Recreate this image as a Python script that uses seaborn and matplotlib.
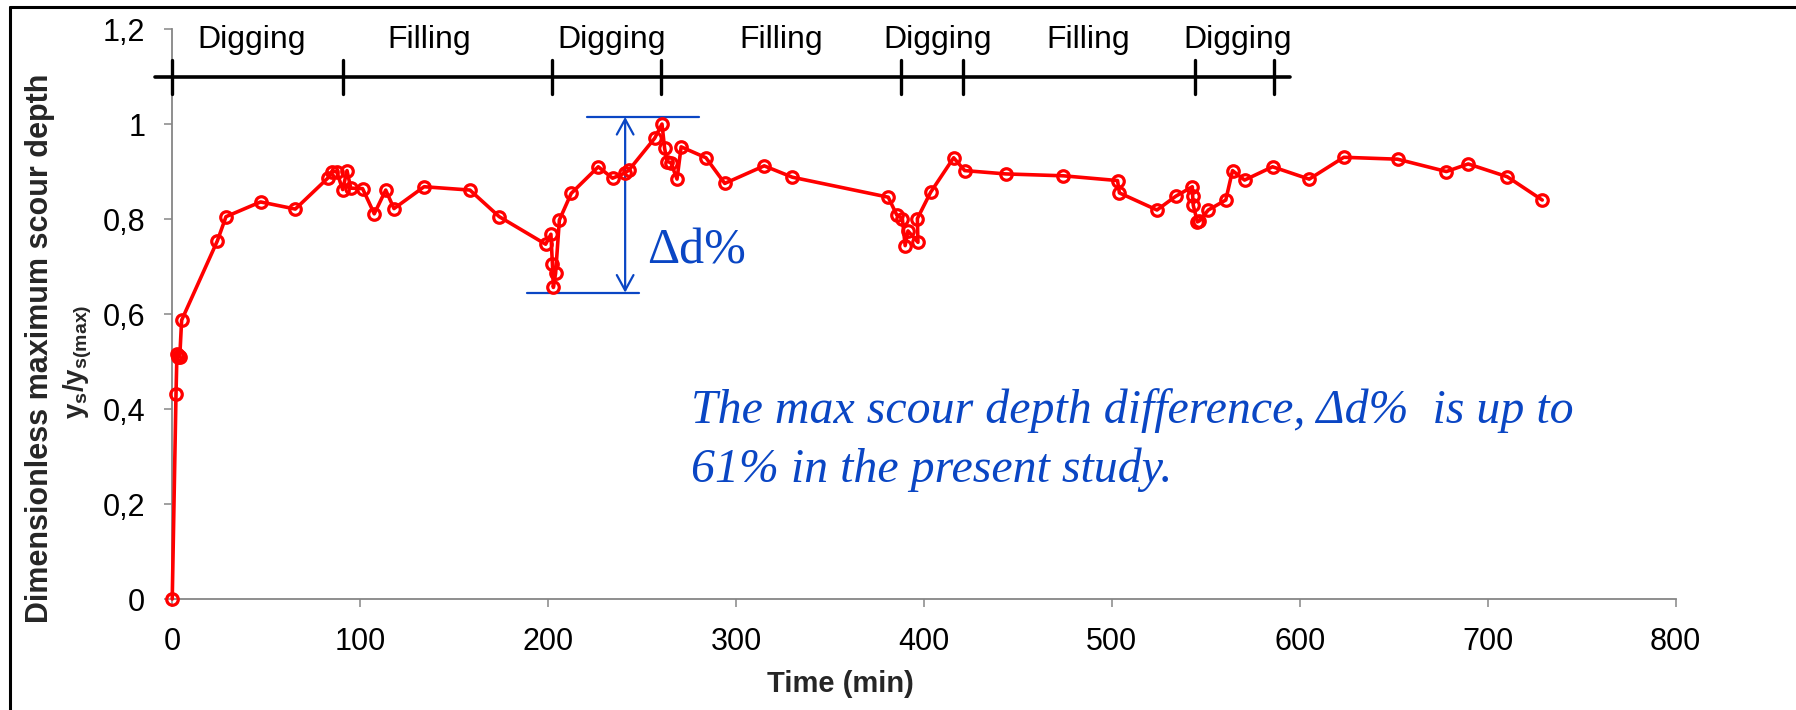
import matplotlib
matplotlib.use("Agg")
import matplotlib.pyplot as plt
from matplotlib.lines import Line2D
import seaborn as sns
import pandas as pd

# temps (min) et profondeur adimensionnelle ys/ys(max)
time_min = [0, 2, 2.5, 3, 3.5, 4, 5, 24, 28.6, 47, 65.5,
            83, 85, 87.5, 90.7, 93, 95, 101.3, 107.5, 113.6, 118,
            134, 158.4, 174, 198.7, 201.5, 202.3, 202.8, 204, 206,
            212.3, 226.7, 234.3, 241, 243, 256.7, 260.6, 262, 263.3, 265.3, 268.6, 270.8,
            284, 294, 315, 330, 381, 385.6, 388.5, 390, 391.5, 396.8, 396.5, 403.5,
            415.8, 421.7, 443.4, 474.2, 503, 504, 524, 534,
            542.8, 543, 543.3, 545.5, 546.5, 551.3, 560.6, 564.2, 570.6, 585.5,
            605, 623.4, 652, 678, 689.6, 710.4, 729]
depth_ratio = [0, 0.431, 0.515, 0.51, 0.512, 0.51, 0.587, 0.754, 0.805, 0.836, 0.821,
               0.887, 0.900, 0.900, 0.862, 0.902, 0.865, 0.864, 0.811, 0.861, 0.822,
               0.868, 0.861, 0.805, 0.747, 0.768, 0.705, 0.656, 0.686, 0.798,
               0.854, 0.910, 0.886, 0.897, 0.903, 0.970, 1.0, 0.949, 0.921, 0.919, 0.884, 0.952,
               0.929, 0.875, 0.912, 0.888, 0.846, 0.808, 0.801, 0.744, 0.775, 0.751, 0.801, 0.856,
               0.929, 0.902, 0.895, 0.891, 0.881, 0.855, 0.819, 0.848,
               0.868, 0.848, 0.829, 0.794, 0.796, 0.819, 0.840, 0.902, 0.882, 0.910,
               0.884, 0.930, 0.926, 0.900, 0.916, 0.889, 0.840]

# phases creusement / remplissage
phase_bounds = [0, 91, 202, 260, 388, 421, 544, 586]
phase_labels = ["Digging", "Filling", "Digging", "Filling", "Digging", "Filling", "Digging"]
# petit decalage des etiquettes par rapport au milieu de la phase (min)
label_shift = [-3, -10, 3, 0, 3, 5, 2]

x_ticks = [0, 100, 200, 300, 400, 500, 600, 700, 800]
y_ticks = [0, 0.2, 0.4, 0.6, 0.8, 1.0, 1.2]
y_tick_labels = ["0", "0,2", "0,4", "0,6", "0,8", "1", "1,2"]

BLUE = "#0A46C4"
GRAY = "#868686"

sns.set_theme(style="white")
plt.rcParams["font.family"] = ["Liberation Sans", "DejaVu Sans"]
plt.rcParams["mathtext.fontset"] = "custom"
plt.rcParams["mathtext.bf"] = "Liberation Sans:bold"
plt.rcParams["mathtext.rm"] = "Liberation Sans"

df = pd.DataFrame({"time": time_min, "ratio": depth_ratio})

fig = plt.figure(figsize=(17.96, 7.10), dpi=100)
ax = fig.add_axes([0.0959, 0.1563, 0.8371, 0.8028])

sns.lineplot(data=df, x="time", y="ratio", sort=False, estimator=None, ax=ax,
             color="#FF0000", lw=2.6, marker="o", ms=8.3, mfc="none",
             mec="#FF0000", mew=2.3, clip_on=False, zorder=5)

ax.set_xlim(0, 800)
ax.set_ylim(0, 1.2)
ax.set_xticks(x_ticks)
ax.set_yticks(y_ticks)
ax.set_yticklabels(y_tick_labels)
ax.set_xlabel("")
ax.set_ylabel("")
for side in ["top", "right"]:
    ax.spines[side].set_visible(False)
for side in ["left", "bottom"]:
    ax.spines[side].set_color(GRAY)
    ax.spines[side].set_linewidth(1.3)
ax.tick_params(axis="both", which="major", direction="out", length=6, width=1.1,
               color=GRAY, labelsize=22, labelcolor="black")
ax.tick_params(axis="x", pad=14.5, bottom=True)
ax.tick_params(axis="y", pad=13.5, left=True)

# barre des phases au-dessus des courbes
ax.plot([-9, 595], [1.1, 1.1], color="black", lw=2.6, clip_on=False, zorder=6)
for b in phase_bounds:
    ax.plot([b, b], [1.064, 1.135], color="black", lw=2.4, clip_on=False, zorder=6)
for i, lab in enumerate(phase_labels):
    mid = (phase_bounds[i] + phase_bounds[i + 1]) / 2 + label_shift[i]
    ax.text(mid, 1.176, lab, ha="center", va="center", fontsize=23, color="black")

# fleche delta d%
ax.plot([220.7, 280.3], [1.015, 1.015], color=BLUE, lw=1.6, zorder=4)
ax.plot([188.7, 248.5], [0.645, 0.645], color=BLUE, lw=1.6, zorder=4)
ax.annotate("", xy=(241, 1.015), xytext=(241, 0.645),
            arrowprops=dict(arrowstyle="<->,head_length=0.55,head_width=0.3",
                            color=BLUE, lw=1.6, mutation_scale=20,
                            shrinkA=0, shrinkB=0), zorder=4)
ax.text(252.5, 0.7067, "\u0394d%", ha="left", va="baseline", color=BLUE,
        fontsize=36, family=["Liberation Serif", "DejaVu Serif"])

ax.text(276, 0.3705, "The max scour depth difference, \u0394d%  is up to",
        ha="left", va="baseline", color=BLUE, fontsize=34.5, style="italic",
        family=["Liberation Serif", "DejaVu Serif"])
ax.text(276, 0.247, "61% in the present study.",
        ha="left", va="baseline", color=BLUE, fontsize=34.5, style="italic",
        family=["Liberation Serif", "DejaVu Serif"])

# titres des axes
fig.text(0.0223, 0.5099, "Dimensionless maximum scour depth", rotation=90,
         ha="center", va="center", fontsize=22, fontweight="bold")
fig.text(0.0434, 0.490, r"$\mathbf{y_{s}/y_{s(max)}}$", rotation=90,
         ha="center", va="center", fontsize=20)
fig.text(840 / 1796, 1 - 683.5 / 710, "Time (min)", ha="center", va="center",
         fontsize=21, fontweight="bold")

# cadre (gauche + haut)
fig.add_artist(Line2D([0.0056, 0.0056], [0, 0.9908], transform=fig.transFigure,
                      color="black", lw=2.2))
fig.add_artist(Line2D([0.0056, 1.0], [0.9908, 0.9908], transform=fig.transFigure,
                      color="black", lw=2.2))

fig.savefig("out.png", dpi=100)
